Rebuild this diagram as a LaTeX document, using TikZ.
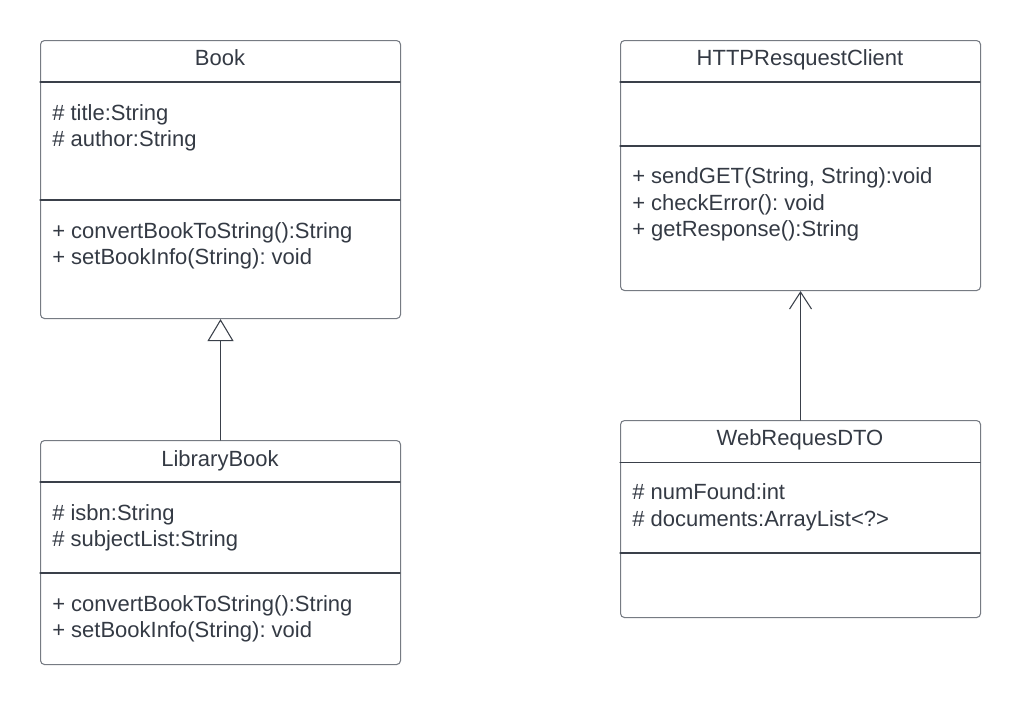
\documentclass[tikz,border=0pt]{standalone}
\usepackage{fontspec}
\setmainfont{Liberation Sans}
\usetikzlibrary{arrows.meta}
\definecolor{boxgray}{RGB}{118,123,131}
\definecolor{linegray}{RGB}{58,64,74}
\definecolor{txt}{RGB}{52,58,68}
\frenchspacing

\begin{document}
\begin{tikzpicture}[x=0.75pt, y=-0.75pt, line cap=round, line join=round,
	classbox/.style={draw=boxgray, line width=0.8pt, rounded corners=3pt, minimum width=270pt, inner sep=0pt, anchor=north west},
	divider/.style={draw=linegray, line width=0.8pt},
	classname/.style={font=\fontsize{16.5}{20}\selectfont, text=txt, anchor=base, inner sep=0pt},
	member/.style={font=\fontsize{16.5}{20}\selectfont, text=txt, anchor=base west, inner sep=0pt}]
	\useasboundingbox (0,0) rectangle (1020,704);

	% Book
	\node[classbox, minimum height=208.5pt] (book) at (40,40) {};
	\draw[divider] (40,82) -- (400,82);
	\draw[divider] (40,200) -- (400,200);
	\node[classname] (booktitle) at (220,65) {Book};
	\node[member] (booka1) at (52,120) {\# title:String};
	\node[member] (booka2) at (52,146.5) {\# author:String};
	\node[member] (bookm1) at (52,238) {+ convertBookToString():String};
	\node[member] (bookm2) at (52,264.5) {+ setBookInfo(String): void};

	% LibraryBook
	\node[classbox, minimum height=168pt] (lib) at (40,440) {};
	\draw[divider] (40,482) -- (400,482);
	\draw[divider] (40,573) -- (400,573);
	\node[classname] (libtitle) at (220,466) {LibraryBook};
	\node[member] (liba1) at (52,520) {\# isbn:String};
	\node[member] (liba2) at (52,546.5) {\# subjectList:String};
	\node[member] (libm1) at (52,611) {+ convertBookToString():String};
	\node[member] (libm2) at (52,637.5) {+ setBookInfo(String): void};

	% HTTPResquestClient
	\node[classbox, minimum height=187.5pt] (http) at (620,40) {};
	\draw[divider] (620,82) -- (980,82);
	\draw[divider] (620,146) -- (980,146);
	\node[classname] (httptitle) at (800,65) {HTTPResquestClient};
	\node[member] (httpm1) at (632,183.5) {+ sendGET(String, String):void};
	\node[member] (httpm2) at (632,210) {+ checkError(): void};
	\node[member] (httpm3) at (632,236.5) {+ getResponse():String};

	% WebRequesDTO
	\node[classbox, minimum height=147.75pt] (dto) at (620,420) {};
	\draw[divider] (620,462.5) -- (980,462.5);
	\draw[divider] (620,553) -- (980,553);
	\node[classname] (dtotitle) at (800,445) {WebRequesDTO};
	\node[member] (dtoa1) at (632,499.5) {\# numFound:int};
	\node[member] (dtoa2) at (632,526) {\# documents:ArrayList<?>};

	% relations
	\draw[linegray, line width=0.8pt, -{Triangle[open, length=16.5pt, width=19.5pt, line width=0.8pt]}] (lib.north) -- (book.south);
	\draw[linegray, line width=0.8pt, -{Straight Barb[length=12.75pt, width=16.5pt, line width=0.8pt]}] (dto.north) -- (http.south);
\end{tikzpicture}
\end{document}
